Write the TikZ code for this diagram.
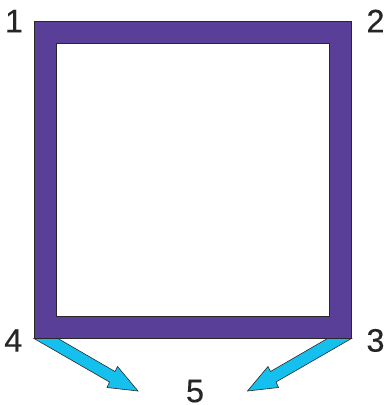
\documentclass[tikz,border=0pt]{standalone}
\usepackage{fontspec}
\setmainfont{Liberation Sans}
\newfontfamily\lblfont[FakeBold=0.3]{Liberation Sans}
\definecolor{framepurple}{RGB}{89,63,152}
\definecolor{arrowcyan}{RGB}{22,192,238}
\definecolor{edgegray}{RGB}{40,40,40}
\tikzset{
  lbl/.style={font=\lblfont\fontsize{32.5}{32.5}\selectfont, inner sep=0pt, text=black!85, text height=23.3pt, text depth=0pt},
  framefill/.style={fill=framepurple, draw=edgegray, line width=0.9pt, even odd rule},
  flowarrow/.style={fill=arrowcyan, draw=edgegray, line width=0.6pt, line join=miter}
}
\begin{document}
\begin{tikzpicture}[x=1pt,y=-1pt]
\useasboundingbox (0,0) rectangle (384,405);
% frame
\path[framefill] (34,21) rectangle (351.5,338.5) (56,43.5) rectangle (329.5,316);
\draw[edgegray, line width=0.9pt] (56,43.5) rectangle (329.5,316);
% corner coordinates
\coordinate (c4) at (34,338.5);
\coordinate (c3) at (351.5,338.5);
% arrows
\draw[flowarrow] (c4) -- (58,338.5) -- (115,371.5) -- (117.5,366.5) -- (138,391) -- (107,387.5) -- (109.5,382) -- cycle;
\draw[flowarrow] (c3) -- (327.5,338.5) -- (270.5,371.5) -- (268,366.5) -- (247.5,391) -- (278.5,387.5) -- (276,382) -- cycle;
% labels
\node[lbl] (n1) at (14,20.7) {1};
\node[lbl] (n2) at (375.5,20.7) {2};
\node[lbl] (n3) at (375.5,340) {3};
\node[lbl] (n4) at (13.3,340) {4};
\node[lbl] (n5) at (195,390.5) {5};
\end{tikzpicture}
\end{document}
